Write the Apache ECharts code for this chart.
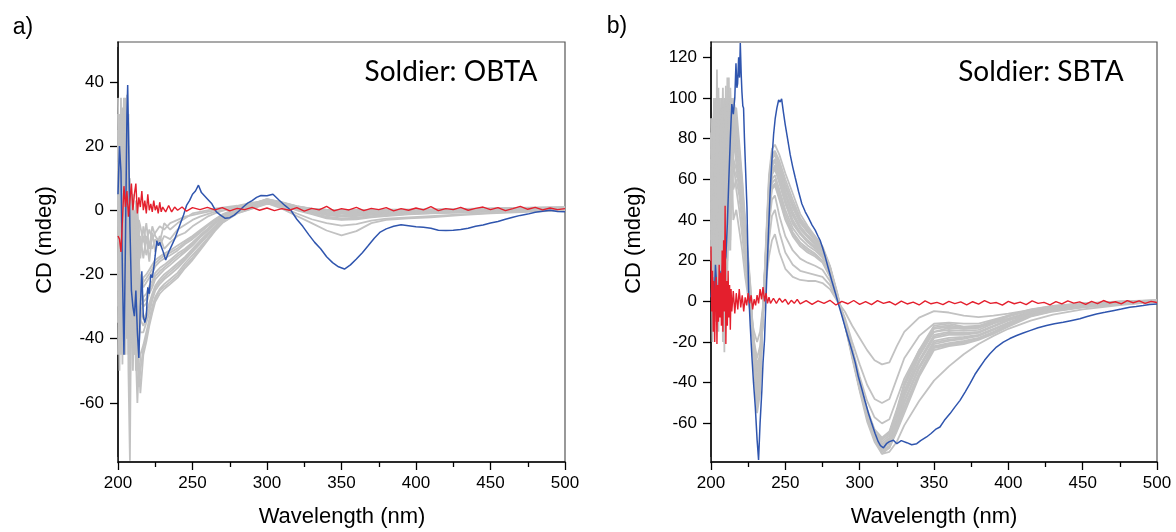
<!DOCTYPE html>
<html><head><meta charset="utf-8">
<script src="https://cdn.jsdelivr.net/npm/echarts@6/dist/echarts.min.js"></script>
<style>html,body{margin:0;padding:0;background:#fff}#c{width:1176px;height:532px}</style>
</head><body><div id="c"></div>
<script>
// ---------------- Panel a (OBTA) ----------------
const wlA = [200,201,202,203,204,205,206,207,208,209,210,211,212,213,214,215,217,219,221,223,225,228,231,235,240,245,250,255,260,265,270,280,290,300,310,320,330,340,350,360,370,380,395,410,430,450,475,500];
const grayA1 = [-20,30,-45,10,35,-30,20,-50,-78,-20,-40,-30,-45,-60,-48,-57, -45,-41,-36,-32,-28.5,-26,-24.5,-23,-21,-18,-15.5,-12.5,-9.5,-6.5,-4,-1,0.5,2,1.5,0,-1.2,-2.5,-3,-2.8,-2.2,-1.8,-1.3,-1,-0.7,-0.4,0,0.3];
const grayA2 = [25,-40,15,-30,30,-10,36,-45,5,-35,-20,-45,-30,-40,-55,-45, -42,-38,-34,-30,-27,-24.5,-23,-21.5,-19.5,-16.5,-14,-11.5,-8.8,-6,-3.6,-0.8,0.8,2.2,1.4,0.2,-0.9,-2,-2.5,-2.3,-1.8,-1.4,-1,-0.8,-0.5,-0.3,0.1,0.4];
const grayA3 = [-45,10,-20,32,-15,25,-40,15,-30,-10,-50,-25,-40,-35,-30,-38, -38,-35,-32,-28,-25,-23,-21.5,-20,-18,-15.5,-13,-10.5,-8,-5.5,-3.3,-0.6,1,2.5,1.6,0.4,-0.6,-1.5,-2,-1.8,-1.4,-1.1,-0.8,-0.6,-0.4,-0.2,0.2,0.5];
const grayA4 = [10,-25,35,-40,0,-45,10,-20,-45,0,-30,-40,-15,-45,-35,-30, -34,-32,-29,-26,-23.5,-21.5,-20,-18.5,-16.5,-14.5,-12,-9.5,-7.2,-5,-2.8,-0.3,1.2,2.8,1.8,0.6,-0.3,-1,-1.5,-1.3,-1,-0.8,-0.6,-0.4,-0.2,0,0.3,0.6];
const grayA5 = [-30,20,-10,-48,25,0,-25,30,-15,-40,-5,-35,-25,-30,-40,-25, -30,-29,-26,-24,-21.5,-20,-18.5,-17,-15,-13,-11,-8.5,-6.5,-4.3,-2.4,0,1.4,3,2,0.8,0,-0.5,-0.8,-0.8,-0.6,-0.5,-0.3,-0.2,0,0.2,0.4,0.7];
const grayA6 = [5,-50,20,-5,-35,30,-10,-30,10,-25,-35,-10,-35,-20,-25,-35, -27,-26,-23.5,-22,-19.5,-18,-17,-15.5,-13.5,-12,-10,-7.8,-5.8,-3.7,-2,0.2,1.6,3.2,2.2,1,0.2,-0.2,-0.4,-0.4,-0.3,-0.2,0,0.1,0.2,0.4,0.6,0.8];
const grayA7 = [-10,15,-30,20,-20,-5,25,-10,-35,5,-15,-30,-5,-25,-45,-20, -24,-22.5,-21,-19.5,-17.5,-16,-15,-14,-12.5,-10.5,-9,-7,-5,-3.2,-1.6,0.4,1.8,3.4,2.4,1.2,0.4,0.1,0,0,0,0.1,0.1,0.2,0.3,0.5,0.7,0.9];
const grayA8 = [30,-20,5,-25,15,-35,-5,20,-25,-15,0,-20,-30,-10,-20,-28, -21,-20,-18.5,-17,-15.5,-14.5,-13.5,-12.5,-11,-9.5,-8,-6.2,-4.5,-2.8,-1.3,0.6,2,3.5,2.5,1.3,0.5,0.2,0.1,0.1,0.1,0.2,0.2,0.3,0.4,0.6,0.8,1];
const grayA9 = [-5,25,-15,10,-25,15,-30,5,-10,-20,3,-8,-15,2,-10,-12, -8,-14,-10,-12,-9,-11,-8,-9,-6,-4.5,-3,-2,-1.2,-0.5,0,1,2,2.2,0.5,-1.8,-4,-6.3,-7.8,-6.5,-4,-3,-2.5,-2.2,-1.5,-1,-0.5,0];
const grayA10 = [15,-35,30,-20,5,-25,12,-40,0,-30,-12,0,-20,-8,-5,-15, -5,-10,-6,-9,-7,-5,-6,-4,-3,-2,-1.5,-1,-0.5,0,0.5,1.2,2.2,2.5,1,-1,-2.8,-4,-4.8,-4.3,-3.2,-2.6,-2.2,-1.8,-1.3,-0.8,-0.3,0.2];
const grayA11 = [35,-10,20,-35,10,-20,30,-15,-40,4,-25,-12,3,-15,-3,-5, -10,-4,-12,-5,-8,-10,-4,-6,-4,-2.5,-1,-0.5,0,0.5,0.8,1.4,2.4,3,1.8,0.6,-0.3,-0.8,-1,-1,-0.8,-0.6,-0.4,-0.2,0,0.2,0.5,0.7];
const grayA12 = [-25,5,-40,25,-10,35,-20,10,-25,-5,5,-18,-8,-2,-18,-8, -15,-8,-16,-7,-13,-8,-12,-10,-8,-7,-5,-3.5,-2,-1,-0.2,1,2,3.2,2,0.8,0,-0.4,-0.6,-0.6,-0.4,-0.3,-0.1,0,0.2,0.4,0.6,0.8];
const grayA13 = [20,-35,25,-15,-40,20,-35,10,-55,-30,-45,-20,-50,-42,-55,-50, -43,-39.5,-35,-31,-27.5,-25,-23.8,-22.3,-20.3,-17.3,-14.8,-12,-9.2,-6.2,-3.8,-0.9,0.6,2.1,1.5,0.1,-1,-2.2,-2.8,-2.5,-2,-1.6,-1.1,-0.9,-0.6,-0.3,0.1,0.3];
const grayA14 = [-35,28,-5,15,-45,10,5,-25,-50,-15,-25,-45,-20,-50,-42,-34, -36,-33.5,-30.5,-27,-24.2,-22.2,-20.8,-19.2,-17.2,-15,-12.5,-10,-7.6,-5.2,-3,-0.4,1.1,2.6,1.7,0.5,-0.4,-1.2,-1.7,-1.5,-1.2,-0.9,-0.7,-0.5,-0.3,-0.1,0.2,0.5];
const grayA15 = [15,-30,0,25,-20,-40,15,-5,-30,-30,-20,-40,-15,-35,-30,-30, -28.5,-27.5,-24.8,-23,-20.5,-19,-17.8,-16.2,-14.2,-12.5,-10.5,-8.2,-6.2,-4,-2.2,0.1,1.5,3.1,2.1,0.9,0.1,-0.3,-0.6,-0.6,-0.4,-0.3,-0.1,0,0.1,0.3,0.5,0.7];
const grayA16 = [0,-15,12,-35,5,20,-20,-35,0,-10,-25,-5,-20,-30,-15,-24, -22.5,-21.2,-19.8,-18.2,-16.5,-15.2,-14.2,-13.2,-11.8,-10,-8.5,-6.6,-4.8,-3,-1.5,0.5,1.9,3.5,2.4,1.2,0.4,0.1,0,0,0.1,0.1,0.2,0.2,0.3,0.5,0.7,0.9];

const blueAwl = [200,201,202,203,204,205,206,206.5,207,208,209,210,211,212,213,214,215,216,217,218,219,220,221,222,223,224,225,226,227,228,230,232,234,236,238,240,242,244,246,248,250,252,254,256,258,260,263,266,269,272,275,278,281,284,287,290,293,296,300,304,308,312,316,320,324,328,332,336,340,344,348,352,356,360,364,368,372,376,380,385,390,395,400,405,410,415,420,425,430,435,440,445,450,455,460,465,470,475,480,485,490,495,500];
const blueA = [5,20,12,-20,-45,-10,30,39,25,-5,-25,-30,-33,-25,-38,-46,-30,-19,-33,-35,-33,-24,-26,-20,-21,-18,-14,-9.5,-11,-10,-12.5,-15.5,-13,-11,-9,-6.5,-4,-1.5,1.5,3,5,6,7.8,5.5,4.5,3.5,2,-0.5,-1.6,-2.5,-2.3,-1.5,-0.3,1,2.2,3,4,4.6,4.5,5,3.2,1.5,0,-2.8,-5,-7.6,-10,-12,-14.5,-16.3,-17.6,-18.3,-17,-15.2,-13.2,-11,-8.7,-6.8,-5.8,-5,-4.5,-4.8,-5.1,-5.3,-5.6,-6.2,-6.3,-6.2,-6,-5.6,-5,-4.6,-4,-3.5,-2.8,-2.2,-1.6,-1.2,-0.6,-0.3,0,-0.4,-0.5];

const redAwl = [200,201,202,203,204,205,206,207,208,209,210,211,212,213,214,215,216,217,218,219,220,221,222,223,224,225,226,227,228,229,230,232,234,236,238,240,243,246,250,255,260,265,270,275,280,285,290,295,300,305,310,315,320,325,330,335,340,345,350,355,360,365,370,375,380,385,390,395,400,405,410,415,420,425,430,435,440,445,450,455,460,465,470,475,480,485,490,495,500];
const redA = [-8,-9,-13,-3,7.5,1,6,-2,3,8.3,0,5,8.3,-1,4,1,6,0,3,-1,5,0,2,-0.5,3,0,1.5,-1,2.5,-0.5,1,-0.5,1.5,-0.5,1,0,1,-0.3,0.8,0.2,0.9,0.1,0.8,-0.2,0.6,0.2,0.9,0,0.7,-0.1,0.5,0,0.8,-0.3,0.6,0.1,1.2,-0.2,0.5,0.1,0.9,-0.1,0.6,0.2,0.8,-0.2,0.5,0,0.7,0.1,1.1,-0.1,0.5,0.2,0.9,0,0.6,1.0,0.2,0.8,-0.1,0.5,1.2,0.3,0.9,0.1,0.7,0.2,0.5];

// ---------------- Panel b (SBTA) ----------------
const wlB = [200,201,202,203,204,205,206,207,208,209,210,211,212,213,214,215,217,219,221,223,225,227,229,231,233,235,237,239,241,243,246,250,255,260,265,270,275,280,285,290,295,300,305,310,315,320,325,330,340,350,360,370,380,390,400,415,430,450,475,500];
const grayB1 = [60,20,85,-10,45,70,5,55,-20,40,75,15,50,30,65,40, 45,35,25,12,2,-8,-15,-20,-15,-2,10,22,30,33, 24,16,12,10.5,10,10,9,6,0, -5,-12,-18,-24,-29,-31,-30,-22,-15,-8,-4.8,-5.5,-7,-7.8,-7,-6,-4.2,-2.8,-1.6,-0.6,0.3];
const grayB2 = [80,40,10,95,30,-15,60,85,20,55,-5,70,35,60,45,70, 55,45,32,18,5,-8,-20,-28,-22,-5,12,30,42,45, 34,24,18,15,14,13,12,8,0.5, -8,-20,-31,-41,-48,-50,-48,-38,-28,-17,-11,-10.5,-11,-11,-9,-7,-4.5,-3,-1.8,-0.7,0.4];
const grayB3 = [30,75,50,20,114,40,75,-5,60,90,30,50,80,25,75,55, 60,52,38,22,8,-8,-22,-32,-26,-6,16,38,50,52, 42,32,25,21,19,17.5,15.5,10,1, -9,-23,-37,-49,-57,-60,-58,-48,-38,-24,-15,-13,-13.5,-13,-10.5,-8.5,-5.5,-3.5,-2.2,-1,0.2];
const grayB4 = [70,-20,60,40,80,20,100,45,70,10,60,95,40,85,55,80, 68,56,42,26,10,-7,-22,-30,-28,-6,18,42,55,57, 50,40,32,27,24,22,19,12,1, -9,-24,-39,-53,-63,-67,-64,-53,-40,-24,-12,-11,-12.5,-12,-9.5,-7,-4,-2.2,-1,0,0.6];
const grayB5 = [50,85,25,70,-5,90,35,65,105,30,80,20,70,50,90,65, 62,58,40,28,12,-5,-25,-35,-30,-8,20,44,58,60, 53,43,34,29,26,23.5,20,13,1.5, -9,-24,-40,-54,-64,-68,-65,-55,-42,-26,-13.5,-12.5,-13.5,-13,-10.5,-7.5,-4.5,-2.5,-1.2,-0.2,0.5];
const grayB6 = [83,50,75,10,65,45,20,100,40,75,50,85,25,95,60,85, 75,60,46,30,14,-4,-20,-38,-32,-5,22,46,60,62, 55,45,36,31,27.5,25,21.5,14,1.5, -10,-25,-40,-54,-64,-69,-66,-56,-44,-27,-15,-14,-14.5,-14,-11,-8.5,-5,-3,-1.5,-0.4,0.4];
const grayB7 = [20,60,40,85,50,75,55,25,80,45,106,40,90,55,70,90, 70,62,44,28,10,-8,-28,-40,-30,-4,20,48,62,65, 58,48,38,33,29,26,22.5,14.5,2, -10,-25,-41,-55,-65,-70,-67,-58,-45,-29,-16.5,-15,-15.5,-15,-12,-9,-5.5,-3.2,-1.7,-0.5,0.3];
const grayB8 = [65,35,90,55,25,60,80,50,35,100,20,75,60,105,80,75, 80,64,48,32,16,-2,-24,-42,-35,-6,24,50,64,67, 60,50,40,34,30,27,23,15,2, -10,-25,-41,-55,-65,-71,-68,-59,-47,-30,-18,-16.5,-16.5,-15.5,-12.5,-9.5,-5.8,-3.5,-2,-0.7,0.2];
const grayB9 = [40,70,20,60,90,30,50,75,60,-25,85,55,100,70,95,85, 72,66,50,30,12,-6,-30,-44,-34,-3,22,52,66,69, 62,52,42,35.5,31.5,28,24,15.5,2.5, -10,-26,-42,-56,-66,-72,-69,-60,-49,-32,-19.5,-18,-17.5,-16.5,-13.5,-10.5,-6.2,-4,-2.2,-0.9,0];
const grayB10 = [75,55,80,30,70,105,45,30,90,65,40,110,50,80,65,95, 85,68,52,34,18,0,-26,-46,-38,-5,26,54,68,70, 64,54,44,37,32.5,29,25,16,2.5, -11,-26,-42,-56,-66,-72,-70,-61,-50,-33,-21,-19.5,-18.5,-17,-14,-11,-6.5,-4.2,-2.4,-1,0];
const grayB11 = [55,80,65,45,15,55,85,60,45,80,70,35,85,60,100,80, 78,70,50,36,16,-4,-32,-48,-36,-2,24,56,70,72, 66,56,46,38.5,34,30,25.5,16.5,3, -11,-26,-43,-57,-67,-73,-71,-62,-52,-35,-22,-20.5,-19.5,-18,-15,-11.5,-7,-4.5,-2.6,-1.2,-0.2];
const grayB12 = [35,65,45,75,55,35,65,90,10,50,95,60,75,95,70,100, 90,72,55,38,20,2,-28,-50,-40,-4,28,58,71,73, 67,58,48,40,35,31,26,17,3, -11,-27,-43,-57,-67,-74,-72,-63,-53,-36,-23,-21.5,-20.5,-18.5,-15.5,-12,-7.2,-4.8,-2.8,-1.3,-0.3];
const grayB13 = [60,45,100,65,40,80,30,70,85,60,25,80,55,75,85,90, 82,74,58,36,18,-2,-34,-52,-42,-3,26,60,72,74, 69,60,50,41,36,32,26.5,17,3.5, -11,-27,-43,-57,-67,-75,-72,-64,-55,-37,-24,-22,-21,-19,-16,-12.5,-7.5,-5,-3,-1.5,-0.4];
const grayB14 = [82,60,35,50,85,65,70,40,65,85,55,65,95,65,90,95, 95,78,60,40,22,3,-30,-55,-45,-5,30,62,75,77, 72,63,53,43,37,32,27,17.5,4, -11,-28,-44,-59,-69,-75,-74,-69,-61,-49,-39,-32,-26,-21,-17,-13.5,-9.5,-6.5,-4,-1.8,0];
const grayB15 = [45,90,30,60,75,10,95,55,30,70,45,100,65,40,85,70, 65,57,41,27,11,-6,-23,-33,-29,-7,19,43,56,58, 51,41,33,28,25,22.8,19.5,12.5,1.2, -9,-24,-39.5,-53.5,-63.5,-67.5,-64.5,-54,-41,-25,-12.8,-11.8,-13,-12.5,-10,-7.2,-4.2,-2.3,-1.1,-0.1,0.5];
const grayB16 = [90,30,55,100,60,85,40,60,95,20,65,50,110,45,60,80, 76,63,46,30,13,-5,-26,-41,-32,-5,22,49,63,66, 59,49,39,33.5,29.5,26.5,22.8,14.8,2, -10,-25,-41,-55,-65,-70.5,-67.5,-58.5,-46,-29.5,-17.2,-15.8,-16,-15.2,-12.2,-9.2,-5.6,-3.3,-1.8,-0.6,0.2];
const grayB17 = [25,75,95,40,65,50,90,20,75,55,90,30,65,90,55,90, 78,67,51,32,15,-3,-28,-45,-36,-4,24,53,67,69.5, 63,53,43,36.2,32,28.5,24.5,15.8,2.5, -10.5,-26,-42,-56,-66,-72,-69.5,-60.5,-49.5,-32.5,-20.2,-18.8,-18,-16.8,-13.8,-10.8,-6.3,-4.1,-2.3,-1,0];
const grayB18 = [70,50,30,85,60,95,50,80,40,70,55,90,45,80,75,95, 86,71,53,37,18,-1,-30,-49,-38,-3,26,57,70.5,72.5, 66.5,57,47,39.2,34.5,30.5,25.8,16.8,3, -11,-26.5,-43,-57,-67,-73.5,-71.5,-62.5,-52.5,-35.5,-22.5,-21,-20,-18.2,-15.2,-11.8,-7.1,-4.6,-2.7,-1.2,-0.2];

const blueBwl = [200,201,202,203,204,205,206,207,208,209,210,211,212,213,214,215,216,216.8,217.4,217.9,218.6,219.2,219.7,220.3,220.8,221.4,221.9,222.5,223,223.6,224.2,225.3,226.4,227.5,228.6,229.8,231,232,233,234.2,235,236,237.6,239,239.8,241,242.1,243.2,244.3,245.5,246.5,247.5,248.7,249.9,251.5,253.3,255,256.6,258.9,261.1,263.4,265.6,268,270.1,272,273.4,275,276.8,279,281.3,283.5,285.7,288,290.2,292.5,294.7,297,299.1,301.4,303.6,305.9,308.1,310.4,312.5,314,316,318,320,322.7,325,328,331.7,335,338.4,341,345,348,351,354,357,360.8,364,367.5,371,374.2,377.5,380.9,384,387.6,392,396.6,401,405.6,410,414.5,420,425.7,431,436.9,442,448.1,453,459.3,465,470.4,476,481.7,486,490.6,495,500];
const blueB = [2,12,-3,18,5,-5,15,8,20,18,22,38,60,80,97,92,100,117,105,107,120,110,127,112,103,96,95,80,70,58,46,5,-12,-27,-40,-52,-68,-78,-60,-44,-30,-19,13.6,40,54,70,82,90,95,99,98,99.5,93,87,80,72,66,61,54,48,44,41,37.5,35,32,30,26.5,22,16,10,4.5,-1.3,-7,-12.7,-18.5,-24,-30,-37,-43,-49,-55,-60,-65,-69,-71,-72,-70,-69,-68.3,-70,-68.5,-69.5,-70.5,-70,-68.5,-66.7,-65,-63,-61.8,-58.5,-55.2,-52,-48.7,-44.5,-40.5,-36,-32.3,-29,-25.8,-22.5,-20.1,-18.3,-16.8,-15.6,-14.4,-13,-11.9,-11,-10.3,-9.5,-8.6,-7.5,-6.2,-5.4,-4.6,-3.8,-2.9,-2.6,-2.1,-1.6,-1.3];

const redBwl = [200,200.5,201,201.5,202,202.5,203,203.5,204,204.5,205,205.5,206,206.5,207,207.5,208,208.5,209,209.5,210,210.5,211,211.5,212,212.5,213,213.5,214,215,216,217,218,219,220,221,222,223,224,225,226,227,228,229,230,231,232,233,234,235,236,237,238,239,240,242,244,246,248,250,252,254,256,258,260,264,268,272,276,280,284,288,292,296,300,304,308,312,316,320,324,328,332,336,340,344,348,352,356,360,364,368,372,376,380,384,388,392,396,400,404,408,412,416,420,424,428,432,436,440,444,448,452,456,460,464,468,472,476,480,484,488,492,496,500];
const redB = [27,-5,15,-15,10,-20,5,12,-21,8,-10,18,-8,14,-12,25,-15,30,-5,47,-21,10,-12,15,-8,8,-14,6,-5,5,-6,4,-4,6,-3,3,-5,2,-2,4,-1,3,-4,1,-2,3,-1,6,1,7,0,4,-1,2,-1,1.5,-1,1.5,-0.5,1,-1.5,0.5,-1,1,-1.2,0.3,-1.5,0.2,-1,0.5,-1.8,0,-1.2,0.4,-1.5,-0.2,-1.6,0.3,-1,-0.2,-1.7,0.1,-1.3,-0.4,-1.8,0.2,-1.2,-0.5,-1.6,0,-1.1,-0.3,-1.7,-0.2,-1.4,0.3,-1,-0.6,-1.9,0,-1.2,-0.4,-1.6,0.2,-1,-0.5,-1.7,-0.1,-1.3,0.2,-0.9,-0.3,-1.5,0,-1.1,0.4,-0.8,-0.2,-1.3,0.3,-0.7,0.2,-1,0,-0.6];

// axis tick labels
const xTicks = [200,250,300,350,400,450,500];
const yTicksA = [-60,-40,-20,0,20,40];
const yTicksB = [-60,-40,-20,0,20,40,60,80,100,120];

// ---------------- build ----------------
const chart = echarts.init(document.getElementById('c'), null, {renderer:'canvas'});
const FONT = 'Liberation Sans, Arial, Helvetica, sans-serif';
const GRAY = '#c2c2c2', BLUE = '#2f55ae', RED = '#e41f2d';
function pairs(xs, ys){ return xs.map((x,i)=>[x, ys[i]]); }
function line(gi, xs, ys, color, w, z){
  return {type:'line', xAxisIndex:gi, yAxisIndex:gi, data:pairs(xs,ys), symbol:'none', showSymbol:false,
    lineStyle:{color:color, width:w}, silent:true, z:z, clip:true};
}
function xAx(gi){
  return {type:'value', gridIndex:gi, min:200, max:500, interval:50,
    axisLine:{show:true, onZero:false, lineStyle:{color:'#000', width:1.5}},
    axisTick:{show:true, inside:false, length:8, lineStyle:{color:'#000', width:1.3}},
    minorTick:{show:true, splitNumber:2, length:5, lineStyle:{color:'#000', width:1.3}},
    splitLine:{show:false}, minorSplitLine:{show:false},
    axisLabel:{show:true, margin:13, color:'#000', fontSize:17, fontFamily:FONT, customValues:xTicks}};
}
function yAx(gi, mn, mx, ticks, sn){
  return {type:'value', gridIndex:gi, min:mn, max:mx, splitNumber:sn,
    axisLine:{show:true, onZero:false, lineStyle:{color:'#000', width:1.5}},
    axisTick:{show:true, inside:false, length:8, lineStyle:{color:'#000', width:1.3}},
    splitLine:{show:false},
    axisLabel:{show:true, margin:14, color:'#000', fontSize:17, fontFamily:FONT, customValues:ticks}};
}
const grayAs = [grayA1,grayA13,grayA2,grayA3,grayA14,grayA4,grayA5,grayA15,grayA6,grayA7,grayA16,grayA8,grayA9,grayA10,grayA11,grayA12];
const grayBs = [grayB1,grayB2,grayB3,grayB4,grayB15,grayB5,grayB6,grayB7,grayB16,grayB8,grayB9,grayB17,grayB10,grayB11,grayB18,grayB12,grayB13,grayB14];
const series = [];
grayAs.forEach(g=>series.push(line(0, wlA, g, GRAY, 1.8, 1)));
series.push(line(0, blueAwl, blueA, BLUE, 1.5, 3));
series.push(line(0, redAwl, redA, RED, 1.4, 4));
grayBs.forEach(g=>series.push(line(1, wlB, g, GRAY, 1.8, 1)));
series.push(line(1, blueBwl, blueB, BLUE, 1.5, 3));
series.push(line(1, redBwl, redB, RED, 1.4, 4));

function txt(x, y, s, font, rot){
  return {type:'text', x:x, y:y, rotation:rot||0, silent:true, z:100,
    style:{text:s, font:font, fill:'#000', align:'center', verticalAlign:'middle', textAlign:'center', textVerticalAlign:'middle'}};
}
function cover(x, y, w, h){
  return {type:'rect', silent:true, z:100, shape:{x:x, y:y, width:w, height:h}, style:{fill:'#fff'}};
}
const TITLEFONT = '28px Lato, "Open Sans", sans-serif';
const AXTFONT = '22px ' + FONT;
chart.setOption({
  animation:false,
  backgroundColor:'#fff',
  grid:[
    {left:118, top:42, width:447, height:420, show:true, borderColor:'#555', borderWidth:1.2, backgroundColor:'transparent', containLabel:false, outerBoundsMode:'none'},
    {left:711, top:42, width:446, height:420, show:true, borderColor:'#555', borderWidth:1.2, backgroundColor:'transparent', containLabel:false, outerBoundsMode:'none'}
  ],
  xAxis:[xAx(0), xAx(1)],
  yAxis:[yAx(0, -78.4, 52.4, yTicksA, 6), yAx(1, -79, 127.5, yTicksB, 10)],
  series:series,
  graphic:[
    cover(98, 37, 19.2, 10), cover(98, 457, 19.2, 10),
    cover(691, 37, 19.2, 10), cover(691, 457, 19.2, 10),
    txt(23, 28, 'a)', '23px ' + FONT),
    txt(617, 27, 'b)', '23px ' + FONT),
    txt(451, 72, 'Soldier: OBTA', TITLEFONT),
    txt(1041, 72, 'Soldier: SBTA', TITLEFONT),
    txt(45, 240, 'CD (mdeg)', AXTFONT, Math.PI/2),
    txt(634, 240, 'CD (mdeg)', AXTFONT, Math.PI/2),
    txt(342, 517, 'Wavelength (nm)', AXTFONT),
    txt(934, 517, 'Wavelength (nm)', AXTFONT)
  ]
});
</script>
</body></html>
